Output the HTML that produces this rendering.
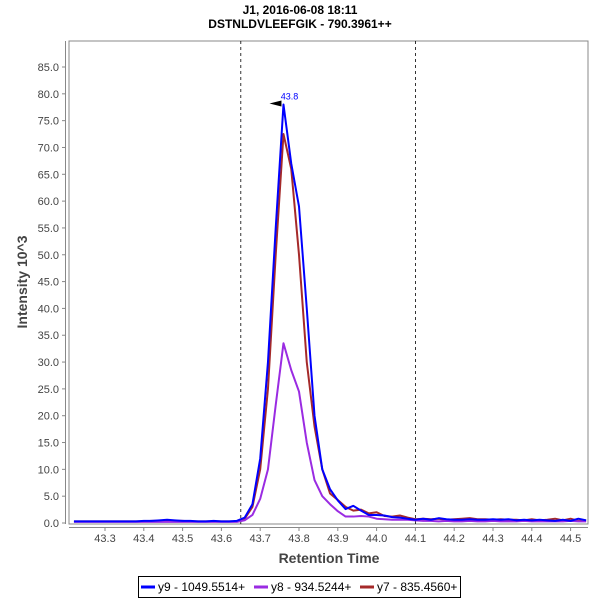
<!DOCTYPE html>
<html><head><meta charset="utf-8"><style>
body{margin:0;background:#fff;font-family:"Liberation Sans",sans-serif}
svg text{font-family:"Liberation Sans",sans-serif}
</style></head><body>
<svg width="600" height="600">
<text x="300" y="14" text-anchor="middle" font-size="12" font-weight="bold" fill="#000">J1, 2016-06-08 18:11</text>
<text x="300" y="28" text-anchor="middle" font-size="12" font-weight="bold" fill="#000">DSTNLDVLEEFGIK - 790.3961++</text>
<rect x="69" y="41" width="519" height="483" fill="#fff" stroke="#888"/>
<g id="yaxis"></g>
<g id="xaxis"></g>
<g id="series"></g>
<text transform="translate(27,282) rotate(-90)" text-anchor="middle" font-size="14" font-weight="bold" fill="#444">Intensity 10^3</text>
<text x="329" y="563" text-anchor="middle" font-size="14" font-weight="bold" fill="#444">Retention Time</text>
<g>
<rect x="138.5" y="576.5" width="322" height="21" fill="#fff" stroke="#000"/>
<line x1="141" y1="587" x2="155" y2="587" stroke="#0000ff" stroke-width="3"/>
<text x="158" y="591" font-size="12" fill="#000">y9 - 1049.5514+</text>
<line x1="254" y1="587" x2="268" y2="587" stroke="#9a2be2" stroke-width="3"/>
<text x="271" y="591" font-size="12" fill="#000">y8 - 934.5244+</text>
<line x1="360" y1="587" x2="374" y2="587" stroke="#a52a2a" stroke-width="3"/>
<text x="377" y="591" font-size="12" fill="#000">y7 - 835.4560+</text>
</g>
</svg>
<script>
const times=[43.22,43.24,43.26,43.28,43.30,43.32,43.34,43.36,43.38,43.40,43.42,43.44,43.46,43.48,43.50,43.52,43.54,43.56,43.58,43.60,43.62,43.64,43.66,43.68,43.70,43.72,43.74,43.76,43.78,43.80,43.82,43.84,43.86,43.88,43.90,43.92,43.94,43.96,43.98,44.00,44.02,44.04,44.06,44.08,44.10,44.12,44.14,44.16,44.18,44.20,44.22,44.24,44.26,44.28,44.30,44.32,44.34,44.36,44.38,44.40,44.42,44.44,44.46,44.48,44.50,44.52,44.54];
const y9=[0.3,0.3,0.3,0.3,0.3,0.3,0.3,0.3,0.3,0.4,0.4,0.5,0.6,0.5,0.4,0.4,0.3,0.3,0.4,0.3,0.3,0.4,1.0,3.5,12,30,55,78,67,59,40,20,10,6.3,4.2,2.6,3.2,2.3,1.5,1.5,1.4,1.1,1.0,0.8,0.6,0.8,0.6,0.9,0.7,0.6,0.6,0.7,0.6,0.6,0.7,0.6,0.7,0.5,0.6,0.5,0.6,0.5,0.4,0.6,0.4,0.8,0.5];
const y8=[0.2,0.2,0.2,0.2,0.2,0.2,0.2,0.2,0.2,0.2,0.2,0.2,0.2,0.2,0.2,0.2,0.2,0.2,0.2,0.2,0.2,0.2,0.5,1.5,4.5,10,22,33.5,28.5,24.5,15,8,5,3.5,2.2,1.2,1.2,1.3,1.2,0.8,0.7,0.6,0.6,0.6,0.5,0.4,0.4,0.3,0.4,0.3,0.3,0.4,0.3,0.3,0.4,0.3,0.3,0.3,0.4,0.3,0.3,0.3,0.3,0.3,0.4,0.3,0.3];
const y7=[0.3,0.3,0.3,0.3,0.3,0.3,0.3,0.3,0.3,0.3,0.4,0.4,0.5,0.4,0.4,0.3,0.3,0.3,0.3,0.3,0.3,0.3,0.8,3,10,25,50,72.5,66,50,30,18,10,5.5,4.3,3,2.3,2.5,1.8,2.0,1.3,1.2,1.4,1.0,0.7,0.8,0.7,0.8,0.6,0.7,0.8,0.9,0.7,0.7,0.6,0.7,0.6,0.6,0.5,0.7,0.5,0.6,0.8,0.5,0.8,0.4,0.5];
const yTicks=[0,5,10,15,20,25,30,35,40,45,50,55,60,65,70,75,80,85];
const xTicks=[43.3,43.4,43.5,43.6,43.7,43.8,43.9,44.0,44.1,44.2,44.3,44.4,44.5];
const boundaries=[43.65,44.1];
const peakTime=43.76, peakValue=78, peakLabel="43.8";
const NS="http://www.w3.org/2000/svg";
function X(t){return 105+(t-43.3)*388;}
function Y(v){return 523-v*(456/85);}
function mk(tag,attrs,parent){const e=document.createElementNS(NS,tag);for(const k in attrs)e.setAttribute(k,attrs[k]);parent.appendChild(e);return e;}
const ya=document.getElementById('yaxis'),xa=document.getElementById('xaxis'),sg=document.getElementById('series');
mk('line',{x1:65.5,y1:41,x2:65.5,y2:524,stroke:'#888'},ya);
yTicks.forEach(v=>{const y=Y(v);
 mk('line',{x1:62,y1:y,x2:65.5,y2:y,stroke:'#888'},ya);
 const t=mk('text',{x:59,y:y+4,'text-anchor':'end','font-size':11,fill:'#444'},ya);t.textContent=v.toFixed(1);
 
 
});
mk('line',{x1:69,y1:527.5,x2:588,y2:527.5,stroke:'#888'},xa);
xTicks.forEach(v=>{const x=X(v);
 mk('line',{x1:x,y1:527.5,x2:x,y2:531,stroke:'#888'},xa);
 const t=mk('text',{x:x,y:542,'text-anchor':'middle','font-size':11,fill:'#444'},xa);t.textContent=v.toFixed(1);
 
 
});
boundaries.forEach(b=>{const l=mk('line',{x1:X(b),y1:41,x2:X(b),y2:524,stroke:'#000','stroke-dasharray':'3,3','stroke-width':0.8},sg);
 
 });
[[y7,'#a52a2a','series-y7'],[y8,'#9a2be2','series-y8'],[y9,'#0000ff','series-y9']].forEach(([d,c,n])=>{
 const p=mk('polyline',{points:times.map((t,i)=>X(t)+','+Y(d[i])).join(' '),fill:'none',stroke:c,'stroke-width':2,'stroke-linejoin':'round'},sg);
 
 
});
const px=X(peakTime),py=Y(peakValue);
const tri=mk('polygon',{points:(px-14)+','+(py-1)+' '+(px-2)+','+(py-4)+' '+(px-2)+','+(py+2),fill:'#000'},sg);


const pl=mk('text',{x:px+6,y:py-5,'text-anchor':'middle','font-size':9,fill:'#0000ff'},sg);pl.textContent=peakLabel;


</script>
</body></html>
